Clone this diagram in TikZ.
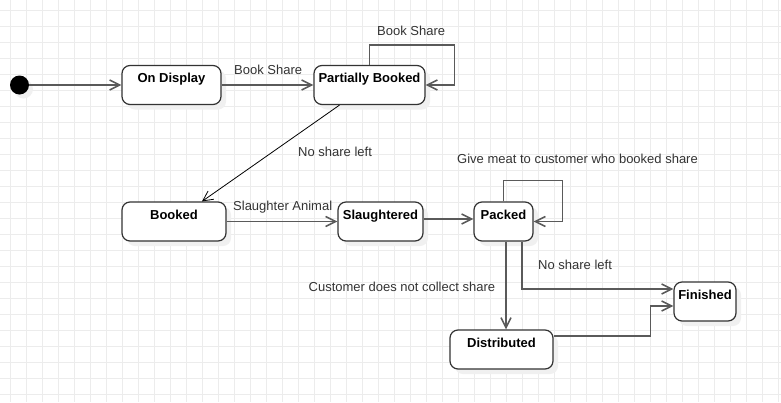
\documentclass[tikz,border=0pt]{standalone}
\usepackage{fontspec}
\setmainfont{Liberation Sans}
\usetikzlibrary{arrows.meta, shadows}
\definecolor{gridgray}{RGB}{236, 236, 236}
\definecolor{linegray}{RGB}{90, 90, 90}
\definecolor{bordergray}{RGB}{51, 51, 51}
\definecolor{labelgray}{RGB}{51, 51, 51}

\begin{document}
\begin{tikzpicture}[
        x=1pt, y=-1pt,
        state/.style={rectangle, draw=bordergray, line width=1.2pt, rounded corners=8pt, fill=white,
            minimum height=39pt, text height=13pt, text depth=18pt, inner ysep=4pt, inner xsep=0pt,
            font=\fontsize{13}{15}\selectfont\bfseries,
            drop shadow={shadow xshift=5pt, shadow yshift=-5pt, fill=black!6, opacity=1}},
        arrow/.style={-{Straight Barb[length=10pt, width=10pt]}, line width=1.6pt, draw=linegray},
        thinarrow/.style={-{Straight Barb[length=10pt, width=10pt]}, line width=0.8pt, draw=black},
        lbl/.style={font=\fontsize{13}{15}\selectfont, text=labelgray, inner sep=0pt, anchor=base west},
        gridline/.style={draw=gridgray, line width=1pt}
    ]
        % Background grid
        \useasboundingbox (0,0) rectangle (781,402);
        \fill[white] (0,0) rectangle (781,402);
        \foreach \gx in {10,26,...,778} \draw[gridline] (\gx,0) -- (\gx,402);
        \foreach \gy in {10,26,...,394} \draw[gridline] (0,\gy) -- (781,\gy);

        % Initial state
        \node[circle, fill=black, minimum size=19pt, inner sep=0pt,
            drop shadow={shadow xshift=4pt, shadow yshift=-4pt, fill=black!6, opacity=1}] (init) at (19.5,85) {};

        % States
        \node[state, minimum width=99pt] (display) at (171.5,85) {On Display};
        \node[state, minimum width=111pt] (partial) at (369.5,85) {Partially Booked};
        \node[state, minimum width=104pt] (booked) at (174,221.5) {Booked};
        \node[state, minimum width=85pt] (slaughter) at (380.5,221.5) {Slaughtered};
        \node[state, minimum width=59pt] (packed) at (503.5,221.5) {Packed};
        \node[state, minimum width=103pt] (distributed) at (501.5,349.5) {Distributed};
        \node[state, minimum width=62pt] (finished) at (705,301.5) {Finished};

        % Labels
        \node[lbl] (lbl_book1) at (234,74) {Book Share};
        \node[lbl] (lbl_book2) at (377,35) {Book Share};
        \node[lbl] (lbl_noshare1) at (298,156) {No share left};
        \node[lbl] (lbl_slaughter) at (233,210) {Slaughter Animal};
        \node[lbl] (lbl_give) at (457,163) {Give meat to customer who booked share};
        \node[lbl] (lbl_collect) at (308.5,291) {Customer does not collect share};
        \node[lbl] (lbl_noshare2) at (538,269) {No share left};

        % Transitions
        \draw[arrow] (init) -- (display);
        \draw[arrow] (display) -- (partial);
        \draw[arrow] (partial.north) -- ++(0,-20) -| ([xshift=29pt]partial.east) -- (partial.east);
        \draw[thinarrow] ([xshift=-30pt]partial.south) -- ([xshift=28pt]booked.north);
        \draw[arrow] (booked) -- (slaughter);
        \draw[arrow] ([yshift=2.5pt]slaughter.east) -- ([yshift=2.5pt]packed.west);
        \draw[arrow] (packed.north) -- ++(0,-21) -| ([xshift=29pt]packed.east) -- (packed.east);
        \draw[arrow] ([xshift=2.5pt]packed.south) -- ([xshift=2.5pt]packed.south |- distributed.north);
        \draw[arrow] ([xshift=18.5pt]packed.south) |- ([yshift=12.5pt]finished.west);
        \draw[arrow] ([yshift=13.5pt]distributed.east) -- ++(97,0) |- ([yshift=-4.5pt]finished.west);
    \end{tikzpicture}
\end{document}
